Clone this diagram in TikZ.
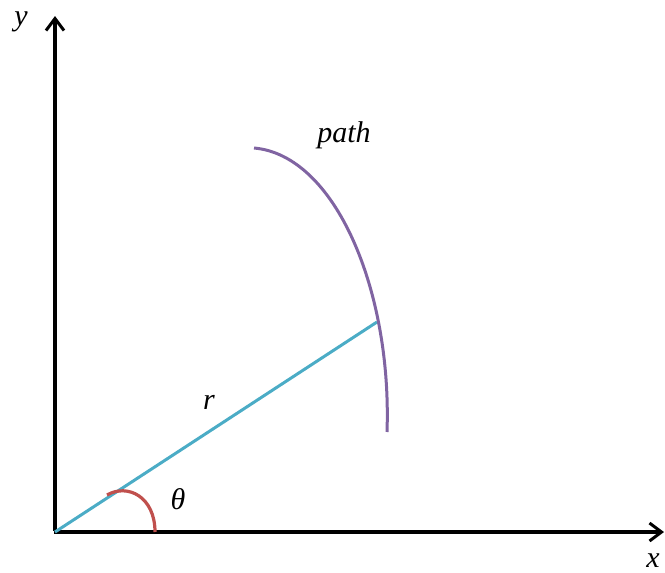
\documentclass[tikz,border=0pt]{standalone}
\usepackage{fontspec}
\setmainfont{Liberation Serif}
\usetikzlibrary{arrows.meta}
\definecolor{rblue}{HTML}{4BACC6}
\definecolor{ppurple}{HTML}{8064A2}
\definecolor{tred}{HTML}{C0504D}
\begin{document}
\begin{tikzpicture}[x=1pt,y=-1pt,
  axis/.style={line width=3.2pt,-{Straight Barb[length=12pt,width=18pt,line width=3pt]}},
  lbl/.style={font=\fontsize{30}{32}\selectfont\itshape,inner sep=0pt}]
\useasboundingbox (0,0) rectangle (665,573);
\coordinate (O) at (55,532);
\coordinate (ytip) at (55,16);
\coordinate (xtip) at (664,532);
\coordinate (P) at (377,322);
\coordinate (ps) at (254,148);
\coordinate (pe) at (387,432);
\coordinate (as) at (107,495);
\coordinate (ae) at (155,532);
\draw[axis] ([yshift=1.5pt]O) -- (ytip);
\draw[axis] ([xshift=-1.5pt]O) -- (xtip);
\draw[rblue,line width=3pt] (O) -- (P);
\draw[ppurple,line width=3pt] (ps) .. controls (335,155) and (392,290) .. (pe);
\draw[tred,line width=3.2pt] (as) .. controls (128,483) and (155,497) .. (ae);
\node[lbl] (ylab) at (21,22) {y};
\node[lbl] (xlab) at (653,561) {x};
\node[lbl] (plab) at (344,135) {path};
\node[lbl] (rlab) at (209,402) {r};
\node[lbl] (tlab) at (178,499) {θ};
\end{tikzpicture}
\end{document}
